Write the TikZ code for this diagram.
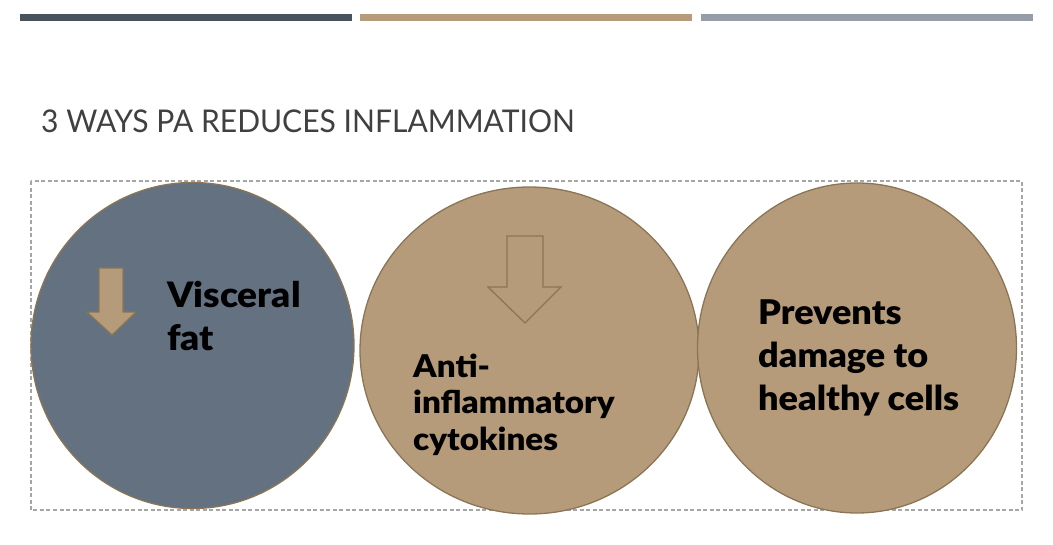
\documentclass[tikz,border=0pt]{standalone}
\usepackage{fontspec}
\setmainfont{Lato}
\newfontfamily\heavy{Lato Black}[FakeStretch=1.06]
\newfontfamily\titlefont{Lato}[FakeStretch=0.96]
\usetikzlibrary{shapes.geometric}
\definecolor{barA}{HTML}{47545B}
\definecolor{barB}{HTML}{B69C7B}
\definecolor{barC}{HTML}{959DA6}
\definecolor{slate}{HTML}{647180}
\definecolor{tan}{HTML}{B59B7A}
\definecolor{rim}{HTML}{8A7556}
\definecolor{dashgrey}{HTML}{A6A6A6}
\definecolor{titlegrey}{HTML}{404040}
\tikzset{
  blob/.style={ellipse, draw=rim, line width=1.3pt, inner sep=0pt},
  label1/.style={anchor=base west, align=left, text=black, inner sep=0pt, font=\heavy\fontsize{35}{43}\selectfont},
}
\begin{document}
\begin{tikzpicture}[x=1pt,y=-1pt]
\useasboundingbox (0,0) rectangle (1053,544);
% top bars
\fill[barA] (20,14) rectangle (352,21);
\fill[barB] (360,14) rectangle (692,21);
\fill[barC] (701,14) rectangle (1033,21);
% title
\node[anchor=base west, inner sep=0pt, text=titlegrey, font=\titlefont\fontsize{31.3}{38}\selectfont] (title) at (41,132) {3 WAYS PA REDUCES INFLAMMATION};
% dashed frame
\draw[dashgrey, line width=1.2pt, dash pattern=on 4pt off 2.5pt] (31,181) rectangle (1022,510);
% circles
\node[blob, fill=slate, minimum width=323pt, minimum height=326pt] (c1) at (192.5,345.5) {};
\node[blob, fill=tan, minimum width=339pt, minimum height=327pt] (c2) at (529.5,350.5) {};
\node[blob, fill=tan, minimum width=319pt, minimum height=330pt] (c3) at (857,348) {};
% arrows
\draw[rim, fill=tan, line width=1.2pt, line join=miter]
  (99,268) -- (123,268) -- (123,312) -- (136,312) -- (112,335) -- (87,312) -- (99,312) -- cycle;
\draw[rim, line width=1.3pt, line join=miter]
  (507,236) -- (543,236) -- (543,287) -- (561,287) -- (525,323) -- (488,287) -- (507,287) -- cycle;
% texts (anchor = baseline of last line)
\node[label1] (t1) at (167,350) {Visceral\\fat};
\node[label1, font=\heavy\fontsize{31.3}{36.5}\selectfont] (t2) at (413,450) {Anti-\\inflammatory\\cytokines};
\node[label1, font=\heavy\fontsize{34}{43}\selectfont] (t3) at (758,410) {Prevents\\damage to\\healthy cells};
\end{tikzpicture}
\end{document}
